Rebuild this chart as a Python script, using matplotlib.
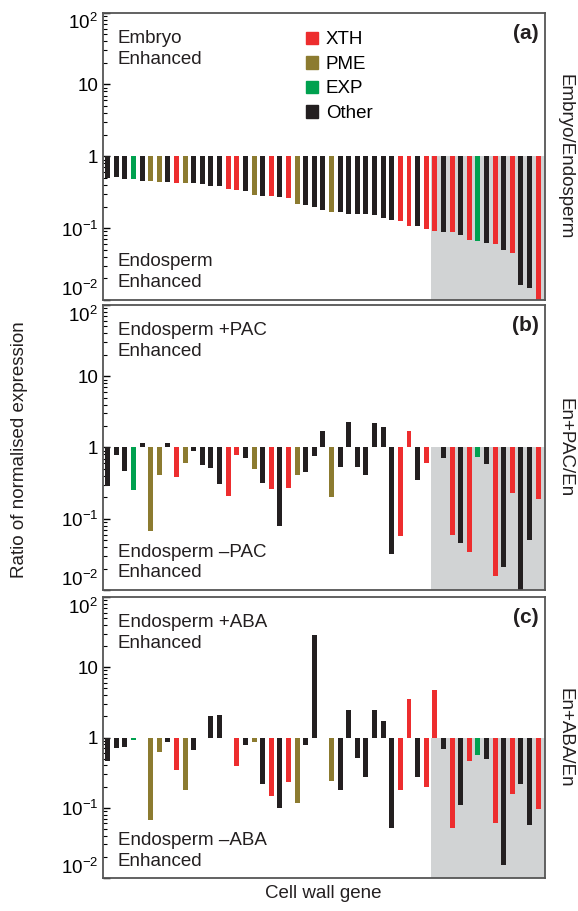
import numpy as np
import matplotlib
matplotlib.use("Agg")
import matplotlib.pyplot as plt
from matplotlib.patches import Patch

plt.rcParams['font.family'] = ['Liberation Sans', 'DejaVu Sans']
plt.rcParams['mathtext.fontset'] = 'custom'
plt.rcParams['mathtext.rm'] = 'Liberation Sans'

# gene class, same order in all three panels
# X = XTH, P = PME, E = EXP, O = Other
gene_class = list("OOOEOPPOXPOOOOXXOPOXOXPOOOPOOOOOOOXXOXXOXOXEOXOXOOX")

# Embryo / Endosperm
ratio_a = [0.50, 0.51, 0.49, 0.49, 0.46, 0.46, 0.44, 0.44, 0.43, 0.43,
           0.43, 0.41, 0.39, 0.39, 0.355, 0.34, 0.33, 0.29, 0.28, 0.28,
           0.27, 0.26, 0.22, 0.21, 0.20, 0.177, 0.17, 0.166, 0.155, 0.155,
           0.155, 0.15, 0.14, 0.13, 0.124, 0.108, 0.108, 0.098, 0.092, 0.088,
           0.088, 0.081, 0.069, 0.066, 0.062, 0.060, 0.050, 0.045, 0.016, 0.0145,
           0.0082]

# En+PAC / En
ratio_b = [0.29, 0.79, 0.47, 0.25, 1.17, 0.067, 0.41, 1.17, 0.385, 0.61,
           0.90, 0.57, 0.52, 0.31, 0.21, 0.79, 0.72, 0.50, 0.32, 0.26,
           0.079, 0.27, 0.41, 0.45, 0.77, 1.73, 0.20, 0.54, 2.25, 0.54,
           0.41, 2.18, 1.97, 0.0316, 0.057, 1.73, 0.35, 0.61, 1.0, 0.72,
           0.059, 0.045, 0.034, 0.74, 0.59, 0.0158, 0.021, 0.23, 0.0093, 0.05,
           0.19]

# En+ABA / En
ratio_c = [0.46, 0.70, 0.73, 0.92, 0.98, 0.067, 0.62, 0.86, 0.35, 0.177,
           0.66, 0.98, 2.0, 2.08, 0.97, 0.39, 0.78, 0.86, 0.215, 0.146,
           0.098, 0.23, 0.115, 0.78, 29.0, 0.98, 0.24, 0.18, 2.46, 0.51,
           0.27, 2.46, 1.69, 0.052, 0.177, 3.5, 0.27, 0.195, 4.7, 0.68,
           0.052, 0.108, 0.46, 0.56, 0.49, 0.06, 0.0155, 0.155, 0.22, 0.056,
           0.095]

class_colors = {'X': '#ED2D2E', 'P': '#8C7B30', 'E': '#00A14F', 'O': '#231F20'}
legend_labels = [('X', 'XTH'), ('P', 'PME'), ('E', 'EXP'), ('O', 'Other')]
shade_from = 37.5

panels = [
    (ratio_a, '(a)', 'Embryo\nEnhanced', 'Endosperm\nEnhanced', 'Embryo/Endosperm'),
    (ratio_b, '(b)', 'Endosperm +PAC\nEnhanced', 'Endosperm \u2013PAC\nEnhanced', 'En+PAC/En'),
    (ratio_c, '(c)', 'Endosperm +ABA\nEnhanced', 'Endosperm \u2013ABA\nEnhanced', 'En+ABA/En'),
]

fig = plt.figure(figsize=(5.78, 9.11), dpi=100)
boxes = [(0.6707, 0.3155), (0.3524, 0.3128), (0.0362, 0.3085)]

x = np.arange(len(gene_class))
cols = [class_colors[c] for c in gene_class]

for i, (vals, tag, top_txt, bot_txt, side_txt) in enumerate(panels):
    ax = fig.add_axes([0.178, boxes[i][0], 0.765, boxes[i][1]])
    ax.set_yscale('log')
    ax.set_ylim(1e-2, 1e2)
    ax.set_xlim(-0.55, 50.8)
    ax.axvspan(shade_from, 50.8, ymin=0, ymax=0.5, color='#D1D3D4', lw=0, zorder=0)
    v = np.array(vals)
    ax.bar(x, v - 1, bottom=1, width=0.58, color=cols, zorder=2)

    ax.set_yticks([1e-2, 1e-1, 1, 10, 1e2])
    labs = ax.set_yticklabels(['$10^{\u22122}$', '$10^{\u22121}$', '1', '10', '$10^{2}$'], fontsize=13.5)
    labs[0].set_va('bottom')
    labs[-1].set_va('top')
    ax.tick_params(axis='y', which='major', direction='in', length=5, width=1, right=False)
    ax.tick_params(axis='y', which='minor', direction='in', length=3, width=0.8, right=False)
    ax.set_xticks([])
    for s in ax.spines.values():
        s.set_color('#555555')
        s.set_linewidth(1.3)

    ax.text(0.034, 0.94, top_txt, transform=ax.transAxes, fontsize=13.5,
            va='top', ha='left', color='#231F20', linespacing=1.3)
    ax.text(0.034, 0.03, bot_txt, transform=ax.transAxes, fontsize=13.5,
            va='bottom', ha='left', color='#231F20', linespacing=1.3)
    ax.text(0.985, 0.96, tag, transform=ax.transAxes, fontsize=15, fontweight='bold',
            va='top', ha='right', color='#231F20')
    ax.text(1.045, 0.5, side_txt, transform=ax.transAxes, fontsize=13.5,
            rotation=270, va='center', ha='center', color='#231F20')

    if i == 0:
        handles = [Patch(color=class_colors[k], label=l) for k, l in legend_labels]
        ax.legend(handles=handles, loc='upper left', bbox_to_anchor=(0.43, 0.98),
                  frameon=False, fontsize=13.5, handlelength=0.65, handleheight=0.65,
                  handletextpad=0.4, labelspacing=0.4, borderpad=0.2)

fig.text(20 / 578, 0.506, 'Ratio of normalised expression', rotation=90,
         va='center', ha='center', fontsize=13.5, color='#231F20')
fig.text(323 / 578, 1 - 893 / 911, 'Cell wall gene', va='center', ha='center',
         fontsize=13.5, color='#231F20')

fig.savefig('out.png', dpi=100)
